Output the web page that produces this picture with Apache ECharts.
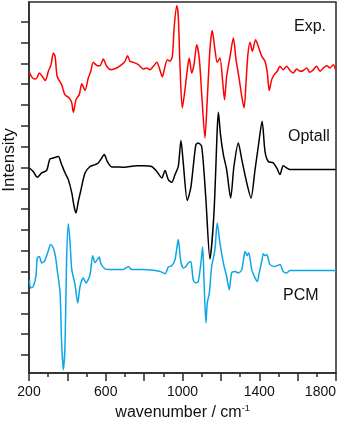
<!DOCTYPE html>
<html>
<head>
<meta charset="utf-8">
<script src="https://cdn.jsdelivr.net/npm/echarts@6/dist/echarts.min.js"></script>
<style>html,body{margin:0;padding:0;background:#fff}#c{width:340px;height:421px}</style>
</head>
<body>
<div id="c"></div>
<script>
const xTickLabels = [200, 600, 1000, 1400, 1800];
const yTickValues = [0,1,2,3,4,5,6,7,8,9,10,11,12,13,14,15,16];
const seriesNames = ['Exp.', 'Optall', 'PCM'];

const expWn = [202,214,228,240,254,271,285,301,315,327,336,347,370,387,410,423,431,445,462,475,492,509,522,535,556,570,587,605,626,657,683,700,714,726,744,770,796,813,831,848,866,879,895,905,921,935,947,957,970,978,987,999,1013,1025,1035,1048,1060,1074,1088,1102,1117,1129,1143,1155,1169,1181,1195,1210,1219,1230,1248,1265,1279,1296,1309,1321,1331,1340,1352,1364,1381,1395,1413,1430,1442,1452,1465,1478,1494,1508,1525,1543,1560,1577,1595,1612,1630,1647,1664,1682,1699,1717,1734,1752,1769,1786,1798];
const expInt = [13.57,13.35,13.25,13.28,13.54,13.35,13.18,13.62,13.94,14.50,14.34,13.37,12.98,12.50,12.34,12.10,11.65,12.26,12.50,13.02,12.70,13.30,13.62,14.05,13.89,13.89,14.21,13.86,13.70,13.78,13.94,14.10,14.37,14.10,14.05,13.94,13.73,13.78,13.70,13.86,14.05,13.78,13.35,13.70,14.18,14.10,14.34,15.78,16.77,16.26,13.86,11.86,12.74,13.70,14.26,13.54,13.94,14.90,14.18,12.26,10.42,12.26,14.66,15.58,14.66,14.05,14.26,13.06,12.26,13.37,14.34,15.22,14.18,13.22,12.41,11.86,13.06,14.34,15.01,14.58,15.14,14.82,14.34,14.10,13.54,12.70,13.22,13.46,13.62,13.86,13.70,13.86,13.66,13.54,13.73,13.62,13.66,13.78,13.57,13.70,13.86,13.62,13.78,13.89,13.78,13.94,13.70];

const optWn = [202,222,243,266,292,309,327,353,367,388,405,423,435,445,457,469,492,518,544,561,579,592,608,631,657,691,726,761,796,839,866,892,909,926,944,961,978,992,1004,1025,1043,1056,1070,1082,1100,1121,1143,1164,1181,1187,1198,1213,1230,1251,1268,1291,1309,1335,1357,1378,1395,1415,1430,1447,1473,1491,1508,1525,1543,1560,1586,1800];
const optInt = [8.98,8.81,8.53,8.74,8.86,9.41,9.46,9.53,9.22,8.74,8.42,7.78,7.13,6.82,7.37,7.85,8.74,9.05,9.14,9.22,9.46,9.62,9.29,9.03,9.03,9.01,9.05,9.09,9.09,9.05,8.81,8.50,8.86,8.42,8.29,8.66,9.05,10.30,9.22,7.42,8.02,9.05,10.10,10.18,10.01,7.61,4.61,6.82,10.82,11.65,10.58,9.62,8.90,7.54,9.05,10.18,9.38,8.26,7.54,8.90,10.01,11.22,9.77,9.29,9.22,8.98,8.66,9.09,8.98,8.90,8.90,8.90];

const pcmWn = [202,209,222,236,243,254,266,280,297,313,327,339,347,362,370,379,388,396,405,414,423,440,454,466,483,497,518,532,544,556,566,575,596,622,657,691,718,735,796,883,909,926,944,961,978,991,1004,1018,1030,1043,1056,1070,1082,1095,1105,1112,1122,1129,1140,1152,1169,1181,1195,1213,1230,1244,1256,1274,1291,1309,1326,1337,1345,1361,1378,1390,1400,1413,1421,1430,1439,1456,1482,1508,1525,1543,1560,1800];
const pcmInt = [3.58,3.22,3.29,3.77,4.66,4.73,4.42,4.49,4.90,5.30,5.14,4.66,4.10,2.98,0.58,-0.71,0.58,4.58,6.30,5.38,4.10,3.38,2.50,3.29,3.70,3.46,3.85,4.77,4.43,4.58,4.70,4.38,4.13,4.10,4.10,4.10,4.25,4.10,4.10,4.01,3.90,4.22,4.29,4.58,5.54,4.49,4.18,4.25,4.42,4.49,3.61,3.46,3.53,4.34,5.18,3.61,1.54,2.50,2.98,4.25,5.06,6.34,5.38,4.42,3.77,3.13,3.94,4.01,3.94,4.10,4.97,4.77,4.91,4.10,3.70,3.53,3.94,4.49,4.86,4.77,4.82,4.34,4.25,4.34,4.01,3.94,4.06,4.06];

const zip = (a, b) => a.map((x, i) => [x, b[i]]);
const axisColor = '#2a2a2a';
const FONT = 'Liberation Sans, Arial, sans-serif';

const chart = echarts.init(document.getElementById('c'), null, {renderer: 'canvas'});
chart.setOption({
  animation: false,
  backgroundColor: '#fff',
  grid: {left: 29, right: 4, top: 2, bottom: 48, containLabel: false, outerBoundsMode: 'none',
         show: true, borderColor: axisColor, borderWidth: 1.5, backgroundColor: 'transparent'},
  xAxis: {
    type: 'value', min: 200, max: 1800, interval: 200,
    axisLine: {show: true, onZero: false, lineStyle: {color: axisColor, width: 1.5}},
    axisTick: {show: true, inside: false, length: 8, lineStyle: {color: axisColor, width: 1.5}},
    minorTick: {show: true, splitNumber: 2, length: 4, lineStyle: {color: axisColor, width: 1.5}},
    splitLine: {show: false}, minorSplitLine: {show: false},
    axisLabel: {
      show: true, margin: 12, color: '#111', fontSize: 14, fontFamily: FONT,
      alignMaxLabel: 'right',
      formatter: v => xTickLabels.indexOf(v) >= 0 ? String(v) : ''
    },
    name: '{m|wavenumber / cm}{s|-1}', nameLocation: 'middle', nameGap: 31,
    nameTextStyle: {rich: {
      m: {fontSize: 16, fontFamily: FONT, color: '#111', lineHeight: 18},
      s: {fontSize: 9, fontFamily: FONT, color: '#111', verticalAlign: 'top', lineHeight: 18}
    }}
  },
  yAxis: {
    type: 'value', min: -0.864, max: 16.947,
    axisLine: {show: true, onZero: false, lineStyle: {color: axisColor, width: 1.5}},
    axisTick: {show: true, inside: false, length: 8, customValues: yTickValues, lineStyle: {color: axisColor, width: 1.5}},
    axisLabel: {show: false},
    splitLine: {show: false}
  },
  graphic: [
    {type: 'text', x: 9, y: 160, rotation: Math.PI / 2, style: {text: 'Intensity', font: '17px ' + FONT, fill: '#111', align: 'center', verticalAlign: 'middle'}},
    {type: 'text', x: 294, y: 19, style: {text: seriesNames[0], font: '16px ' + FONT, fill: '#111'}},
    {type: 'text', x: 288, y: 129, style: {text: seriesNames[1], font: '16px ' + FONT, fill: '#111'}},
    {type: 'text', x: 283, y: 288, style: {text: seriesNames[2], font: '16px ' + FONT, fill: '#111'}}
  ],
  series: [
    {name: seriesNames[0], type: 'line', data: zip(expWn, expInt), showSymbol: false, smooth: 0.25, lineStyle: {color: '#ff0000', width: 1.5}},
    {name: seriesNames[1], type: 'line', data: zip(optWn, optInt), showSymbol: false, smooth: 0.25, lineStyle: {color: '#000000', width: 1.5}},
    {name: seriesNames[2], type: 'line', data: zip(pcmWn, pcmInt), showSymbol: false, smooth: 0.25, lineStyle: {color: '#0aa6e8', width: 1.5}}
  ]
});
</script>
</body>
</html>
